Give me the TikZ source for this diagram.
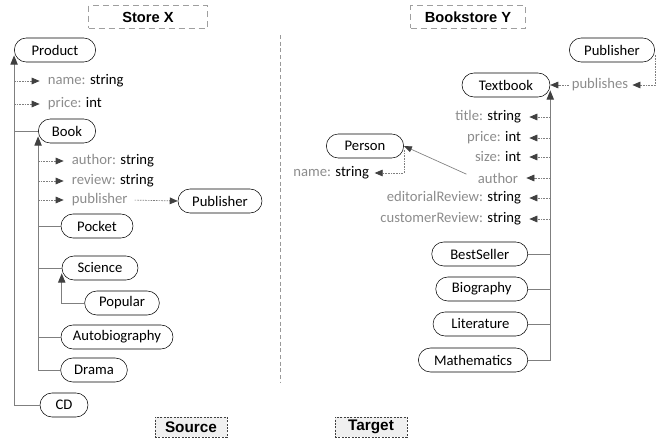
\documentclass[tikz,border=0pt]{standalone}
\usepackage{fontspec}
\setmainfont{Carlito}
\newfontfamily\headfont{Liberation Sans}
\usepackage{tikz}
\usetikzlibrary{arrows.meta,positioning}
\definecolor{linegray}{HTML}{7F7F7F}
\definecolor{tipgray}{HTML}{404040}
\definecolor{attrgray}{HTML}{8C8C8C}

\begin{document}
\begin{tikzpicture}[x=0.75pt,y=-0.75pt,
  font=\fontsize{11}{13}\selectfont,
  cls/.style={draw,rounded corners=9pt,minimum height=18pt,inner xsep=4pt,inner ysep=0pt},
  prop/.style={text=attrgray,inner sep=2pt},
  head/.style={draw=gray!75,dash pattern=on 4.5pt off 3pt,minimum height=17pt,
    font=\headfont\bfseries\fontsize{11}{13}\selectfont},
  tag/.style={draw=gray!50!black,fill=gray!12,dash pattern=on 1.5pt off 1pt,
    minimum width=54pt,minimum height=15pt,inner sep=0pt,
    font=\headfont\bfseries\fontsize{11.5}{13}\selectfont},
  sep/.style={draw=gray!80,dash pattern=on 3pt off 2pt,line width=0.75pt},
  link/.style={draw=linegray,line width=0.75pt},
  isa/.style={link,-{Triangle[length=7pt,width=5.5pt,color=tipgray]}},
  attr/.style={draw=linegray,line width=0.5pt,dash pattern=on 1.2pt off 0.8pt,
    shorten >=4pt,-{Triangle[length=6pt,width=5pt,color=tipgray]}},
  ref/.style={draw=linegray,line width=0.5pt,-{Triangle[length=6pt,width=4.5pt,color=tipgray]}}]
\useasboundingbox (0,0) rectangle (665,439);

% headings and separator
\node[head,minimum width=89pt] (h_x) at (148,17) {Store X};
\node[head,minimum width=86pt] (h_y) at (468,17) {Bookstore Y};
\node[tag] (t_src) at (191,427) {Source};
\node[tag] (t_tgt) at (371,427) {Target};
\coordinate (sep_top) at (280,35);
\coordinate (sep_bot) at (280,383);
\draw[sep] (sep_top) -- (sep_bot);

% Store X
\node[cls,minimum width=61pt] (product) at (55,50) {Product};
\node[cls,minimum width=43pt] (book) at (67,131) {Book};
\node[cls,minimum width=63pt] (publisher) at (220,201) {Publisher};
\node[cls,minimum width=54pt] (pocket) at (97,226) {Pocket};
\node[cls,minimum width=57pt] (science) at (100,268) {Science};
\node[cls,minimum width=56pt] (popular) at (122,303) {Popular};
\node[cls,minimum width=84pt] (autobio) at (117,337) {Autobiography};
\node[cls,minimum width=50pt] (drama) at (94,370) {Drama};
\node[cls,minimum width=36pt] (cd) at (64,405) {CD};

\node[prop,anchor=west] (p_name) at (45,81) {name: \textcolor{black}{string}};
\node[prop,anchor=west] (p_price) at (45,104) {price: \textcolor{black}{int}};
\node[prop,anchor=west] (p_author) at (69,161) {author: \textcolor{black}{string}};
\node[prop,anchor=west] (p_review) at (69,181) {review: \textcolor{black}{string}};
\node[prop,anchor=west] (p_publisher) at (69,200) {publisher};

\draw[isa] (cd.west) -| ([yshift=-4pt]product.west);
\draw[link] (book.west) -- (book.west -| product.west);
\draw[attr] (p_name.west -| product.west) -- (p_name.west);
\draw[attr] (p_price.west -| product.west) -- (p_price.west);

\draw[isa] (drama.west) -| ([yshift=-4pt]book.west);
\draw[link] (pocket.west) -- (pocket.west -| book.west);
\draw[link] (science.west) -- (science.west -| book.west);
\draw[link] (autobio.west) -- (autobio.west -| book.west);
\draw[attr] (p_author.west -| book.west) -- (p_author.west);
\draw[attr] (p_review.west -| book.west) -- (p_review.west);
\draw[attr] (p_publisher.west -| book.west) -- (p_publisher.west);
\draw[attr,shorten >=0pt,shorten <=3pt] (p_publisher.east) -- (publisher.west);

\draw[isa] (popular.west) -| ([yshift=-4pt]science.west);

% Bookstore Y
\node[cls,minimum width=64pt] (r_publisher) at (612,50) {Publisher};
\node[cls,minimum width=66pt] (textbook) at (506,85) {Textbook};
\node[prop] (r_publishes) at (600,85) {publishes};
\node[cls,minimum width=58pt] (person) at (365,146) {Person};
\node[prop,anchor=east] (r_pname) at (372,173) {name: \textcolor{black}{string}};

\node[prop,anchor=east] (r_title) at (524,117) {title: \textcolor{black}{string}};
\node[prop,anchor=east] (r_price) at (524,138) {price: \textcolor{black}{int}};
\node[prop,anchor=east] (r_size) at (524,157) {size: \textcolor{black}{int}};
\node[prop,anchor=east] (r_author) at (521,178) {author};
\node[prop,anchor=east] (r_edit) at (524,198) {editorialReview: \textcolor{black}{string}};
\node[prop,anchor=east] (r_cust) at (524,219) {customerReview: \textcolor{black}{string}};

\node[cls,minimum width=72pt,anchor=east] (bestseller) at (528,254) {BestSeller};
\node[cls,minimum width=69pt,anchor=east] (biography) at (528,289) {Biography};
\node[cls,minimum width=71pt,anchor=east] (literature) at (528,324) {Literature};
\node[cls,minimum width=82pt,anchor=east] (maths) at (528,360) {Mathematics};

\draw[attr,shorten >=1pt] ([yshift=-4pt]r_publisher.east) |- (r_publishes.east);
\draw[attr,shorten >=0pt] (r_publishes.west) -- (textbook.east);

\draw[isa] (maths.east) -| ([yshift=-4pt]textbook.east);
\draw[link] (bestseller.east) -- (bestseller.east -| textbook.east);
\draw[link] (biography.east) -- (biography.east -| textbook.east);
\draw[link] (literature.east) -- (literature.east -| textbook.east);

\draw[attr] (r_title.east -| textbook.east) -- (r_title.east);
\draw[attr] (r_price.east -| textbook.east) -- (r_price.east);
\draw[attr] (r_size.east -| textbook.east) -- (r_size.east);
\draw[attr] (r_author.east -| textbook.east) -- (r_author.east);
\draw[attr] (r_edit.east -| textbook.east) -- (r_edit.east);
\draw[attr] (r_cust.east -| textbook.east) -- (r_cust.east);

\draw[ref,shorten <=7pt] (r_author.west) -- (person.east);
\draw[attr,shorten >=2pt] ([yshift=-3pt]person.east) |- (r_pname.east);
\end{tikzpicture}
\end{document}
